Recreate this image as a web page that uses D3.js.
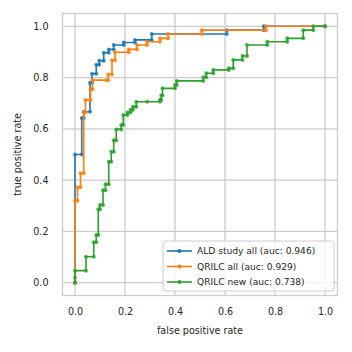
<!DOCTYPE html>
<html>
<head>
<meta charset="utf-8">
<script src="https://cdn.jsdelivr.net/npm/d3@7"></script>
<style>
  body { margin: 0; background: #fff; }
  text { font-family: "DejaVu Sans", sans-serif; fill: #262626; }
</style>
</head>
<body>
<div id="chart"></div>
<script>
// ROC curves (fpr, tpr pairs)
const aldFpr = [0, 0, 0.027, 0.027, 0.035, 0.035, 0.06, 0.06, 0.068, 0.068, 0.085, 0.085, 0.097, 0.097, 0.115, 0.115, 0.135, 0.135, 0.155, 0.155, 0.195, 0.195, 0.24, 0.24, 0.307, 0.307, 0.607, 0.607, 0.755, 0.755, 1];
const aldTpr = [0, 0.5, 0.5, 0.642, 0.642, 0.667, 0.667, 0.78, 0.78, 0.815, 0.815, 0.85, 0.85, 0.866, 0.866, 0.897, 0.897, 0.91, 0.91, 0.927, 0.927, 0.937, 0.937, 0.947, 0.947, 0.97, 0.97, 0.985, 0.985, 1, 1];

const qrilcFpr = [0, 0, 0.01, 0.01, 0.022, 0.022, 0.035, 0.035, 0.042, 0.042, 0.062, 0.062, 0.07, 0.07, 0.125, 0.133, 0.133, 0.148, 0.148, 0.16, 0.16, 0.215, 0.215, 0.248, 0.248, 0.288, 0.288, 0.34, 0.34, 0.372, 0.372, 0.507, 0.507, 0.764, 0.764, 1];
const qrilcTpr = [0, 0.32, 0.32, 0.372, 0.372, 0.427, 0.427, 0.665, 0.665, 0.713, 0.713, 0.755, 0.755, 0.79, 0.79, 0.79, 0.812, 0.812, 0.868, 0.868, 0.899, 0.899, 0.91, 0.91, 0.927, 0.927, 0.94, 0.94, 0.953, 0.953, 0.97, 0.97, 0.985, 0.985, 1, 1];

const newFpr = [0, 0, 0, 0.044, 0.044, 0.075, 0.075, 0.085, 0.085, 0.093, 0.093, 0.1, 0.1, 0.112, 0.112, 0.122, 0.122, 0.135, 0.135, 0.145, 0.145, 0.155, 0.155, 0.165, 0.165, 0.185, 0.185, 0.193, 0.193, 0.21, 0.21, 0.222, 0.222, 0.232, 0.232, 0.245, 0.245, 0.289, 0.34, 0.34, 0.345, 0.345, 0.35, 0.35, 0.4, 0.4, 0.407, 0.407, 0.513, 0.513, 0.525, 0.525, 0.553, 0.553, 0.615, 0.615, 0.633, 0.633, 0.67, 0.67, 0.688, 0.688, 0.769, 0.769, 0.849, 0.849, 0.913, 0.913, 0.953, 0.953, 1];
const newTpr = [0, 0.02, 0.047, 0.047, 0.101, 0.101, 0.158, 0.158, 0.186, 0.186, 0.286, 0.286, 0.303, 0.303, 0.361, 0.361, 0.384, 0.384, 0.472, 0.472, 0.511, 0.511, 0.556, 0.556, 0.598, 0.598, 0.615, 0.615, 0.654, 0.654, 0.664, 0.664, 0.675, 0.675, 0.686, 0.686, 0.706, 0.706, 0.706, 0.713, 0.713, 0.73, 0.73, 0.758, 0.758, 0.771, 0.771, 0.787, 0.787, 0.801, 0.801, 0.817, 0.817, 0.83, 0.83, 0.836, 0.836, 0.869, 0.869, 0.884, 0.884, 0.927, 0.927, 0.94, 0.94, 0.953, 0.953, 0.985, 0.985, 1, 1];

const seriesNames = ["ALD study all (auc: 0.946)", "QRILC all (auc: 0.929)", "QRILC new (auc: 0.738)"];
const ticks = [0, 0.2, 0.4, 0.6, 0.8, 1.0];

const colors = ["#1f77b4", "#ff7f0e", "#2ca02c"];
const series = [[aldFpr, aldTpr], [qrilcFpr, qrilcTpr], [newFpr, newTpr]].map(([f, t], i) => ({
    name: seriesNames[i],
    color: colors[i],
    pts: f.map((v, j) => [v, t[j]])
}));

const width = 352, height = 352,
      margin = ({ top: 13.5, right: 14.5, bottom: 56.5, left: 62.5 });

const svg = d3.select("#chart").append("svg")
    .attr("width", width).attr("height", height);

const x = d3.scaleLinear().domain([-0.05, 1.05]).range([margin.left, width - margin.right]);
const y = d3.scaleLinear().domain([-0.05, 1.05]).range([height - margin.bottom, margin.top]);

// grid
svg.append("g")
    .selectAll("line.gx").data(ticks).join("line")
    .attr("x1", d => x(d)).attr("x2", d => x(d))
    .attr("y1", margin.top).attr("y2", height - margin.bottom)
    .attr("stroke", "#cccccc").attr("stroke-width", 1.3);
svg.append("g")
    .selectAll("line.gy").data(ticks).join("line")
    .attr("y1", d => y(d)).attr("y2", d => y(d))
    .attr("x1", margin.left).attr("x2", width - margin.right)
    .attr("stroke", "#cccccc").attr("stroke-width", 1.3);

// axes (no tick marks, seaborn whitegrid)
const xAxis = svg.append("g")
    .attr("transform", `translate(0,${height - margin.bottom})`)
    .call(d3.axisBottom(x).tickValues(ticks).tickFormat(d3.format(".1f")).tickSize(0).tickPadding(13));
const yAxis = svg.append("g")
    .attr("transform", `translate(${margin.left},0)`)
    .call(d3.axisLeft(y).tickValues(ticks).tickFormat(d3.format(".1f")).tickSize(0).tickPadding(14));
[xAxis, yAxis].forEach(a => {
    a.select(".domain").remove();
    a.selectAll("text").attr("font-size", 9.6).attr("font-family", "DejaVu Sans").attr("fill", "#262626");
});

// frame
svg.append("rect")
    .attr("x", margin.left).attr("y", margin.top)
    .attr("width", width - margin.left - margin.right)
    .attr("height", height - margin.top - margin.bottom)
    .attr("fill", "none").attr("stroke", "#cccccc").attr("stroke-width", 1.3);

// curves
const line = d3.line().x(d => x(d[0])).y(d => y(d[1]));
series.forEach(s => {
    const g = svg.append("g");
    g.append("path")
        .attr("d", line(s.pts))
        .attr("fill", "none").attr("stroke", s.color).attr("stroke-width", 1.6);
    g.selectAll("circle").data(s.pts).join("circle")
        .attr("cx", d => x(d[0])).attr("cy", d => y(d[1]))
        .attr("r", 2).attr("fill", s.color).attr("fill-opacity", 0.8);
});

// labels
svg.append("text")
    .attr("x", (margin.left + width - margin.right) / 2).attr("y", 334)
    .attr("text-anchor", "middle").attr("font-size", 9.6)
    .text("false positive rate");
svg.append("text")
    .attr("transform", `translate(21,${(margin.top + height - margin.bottom) / 2}) rotate(-90)`)
    .attr("text-anchor", "middle").attr("font-size", 9.6)
    .text("true positive rate");

// legend
const lg = svg.append("g").attr("transform", "translate(163,241)");
lg.append("rect")
    .attr("width", 171).attr("height", 50).attr("rx", 3)
    .attr("fill", "#ffffff").attr("fill-opacity", 0.8)
    .attr("stroke", "#cccccc").attr("stroke-width", 1);
series.forEach((s, i) => {
    const yy = 10 + i * 15.5;
    lg.append("line").attr("x1", 4).attr("x2", 29).attr("y1", yy).attr("y2", yy)
        .attr("stroke", s.color).attr("stroke-width", 1.6);
    lg.append("circle").attr("cx", 16.5).attr("cy", yy).attr("r", 2).attr("fill", s.color);
    lg.append("text").attr("x", 34).attr("y", yy).attr("dy", "0.35em")
        .attr("font-size", 9.1).text(s.name);
});
</script>
</body>
</html>
